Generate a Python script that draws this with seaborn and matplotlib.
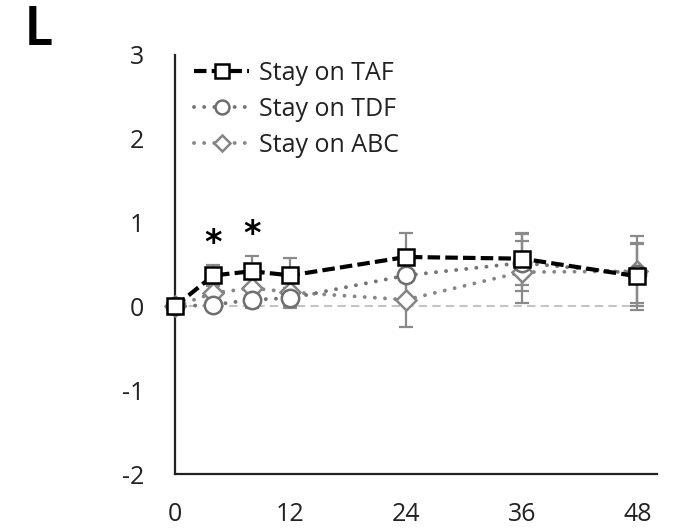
import matplotlib
matplotlib.use("Agg")
import matplotlib.pyplot as plt
import seaborn as sns

# Mean change from baseline by week, with error half-widths
weeks = [0, 4, 8, 12, 24, 36, 48]
taf = [0.0, 0.37, 0.42, 0.37, 0.59, 0.57, 0.36]
taf_err = [0.0, 0.12, 0.18, 0.21, 0.29, 0.31, 0.40]
tdf = [0.0, 0.02, 0.08, 0.10, 0.37, 0.52, 0.39]
tdf_err = [0.0, 0.06, 0.10, 0.12, 0.30, 0.34, 0.35]
abc = [0.0, 0.16, 0.22, 0.17, 0.08, 0.41, 0.42]
abc_err = [0.0, 0.08, 0.12, 0.17, 0.32, 0.37, 0.42]
labels = ["Stay on TAF", "Stay on TDF", "Stay on ABC"]
signif_weeks = [4, 8]

xticks = [0, 12, 24, 36, 48]
yticks = [-2, -1, 0, 1, 2, 3]

sns.set_theme(style="white")
plt.rcParams["font.family"] = ["Open Sans", "DejaVu Sans"]

fig = plt.figure(figsize=(6.75, 5.28), dpi=100)
ax = fig.add_axes([0.259, 0.102, 0.714, 0.794])

ax.axhline(0, xmin=0, xmax=0.975, color="#c4c4c4", lw=1.5,
           dashes=(4, 2.5), zorder=1)

# (values, errors, label, line colour, marker, marker size, dash pattern,
#  line width, marker edge colour)
series = [
    (taf, taf_err, labels[0], "black", "s", 12, (3, 1.25), 3.0, "black"),
    (tdf, tdf_err, labels[1], "#727272", "o", 12.5, (0.01, 2.6), 2.8, "#6e6e6e"),
    (abc, abc_err, labels[2], "#868686", "D", 10.5, (0.01, 2.6), 2.8, "#858585"),
]

for vals, errs, lab, col, mk, ms, dash, lw, mec in series[::-1]:
    ax.errorbar(weeks, vals, yerr=errs, fmt="none", ecolor="#8a8a8a",
                elinewidth=1.6, capsize=5, capthick=1.6, zorder=2,
                clip_on=False)

for i, (vals, errs, lab, col, mk, ms, dash, lw, mec) in enumerate(series[::-1]):
    sns.lineplot(x=weeks, y=vals, ax=ax, color=col, lw=lw, label=lab,
                 marker=mk, markersize=ms, markerfacecolor="white",
                 markeredgecolor=mec, markeredgewidth=1.8,
                 zorder=3 + i, clip_on=False)
    line = ax.lines[-1]
    line.set_dashes(dash)
    if col != "black":
        line.set_dash_capstyle("round")

# significance markers above the TAF error bars
for w in signif_weeks:
    k = weeks.index(w)
    ax.text(w, taf[k] + taf_err[k] + 0.26, "*", ha="center", va="center",
            fontsize=24, fontweight="bold", color="black",
            family="DejaVu Sans")

ax.set_xlim(0, 50)
ax.set_ylim(-2, 3)
ax.set_xticks(xticks)
ax.set_yticks(yticks)
ax.set_xticklabels([str(t) for t in xticks])
ax.set_yticklabels([str(t) for t in yticks])
ax.tick_params(axis="both", length=0, labelsize=18, colors="#222222")
ax.tick_params(axis="y", pad=22)
ax.tick_params(axis="x", pad=20)
ax.set_xlabel("")
ax.set_ylabel("")

for side in ["top", "right"]:
    ax.spines[side].set_visible(False)
for side in ["left", "bottom"]:
    ax.spines[side].set_color("#222222")
    ax.spines[side].set_linewidth(1.6)

handles, hl = ax.get_legend_handles_labels()
order = [hl.index(l) for l in labels]
leg = ax.legend([handles[i] for i in order], [hl[i] for i in order],
                loc="upper left", bbox_to_anchor=(0.02, 1.01),
                frameon=False, fontsize=18, handlelength=2.2,
                handletextpad=0.4, labelspacing=0.45, borderaxespad=0,
                markerscale=0.8)
for t in leg.get_texts():
    t.set_color("#222222")

fig.text(0.036, 0.99, "L", fontsize=38, fontweight="bold", va="top",
         ha="left", color="black", family="Lato")

fig.savefig("out.png", dpi=100)
